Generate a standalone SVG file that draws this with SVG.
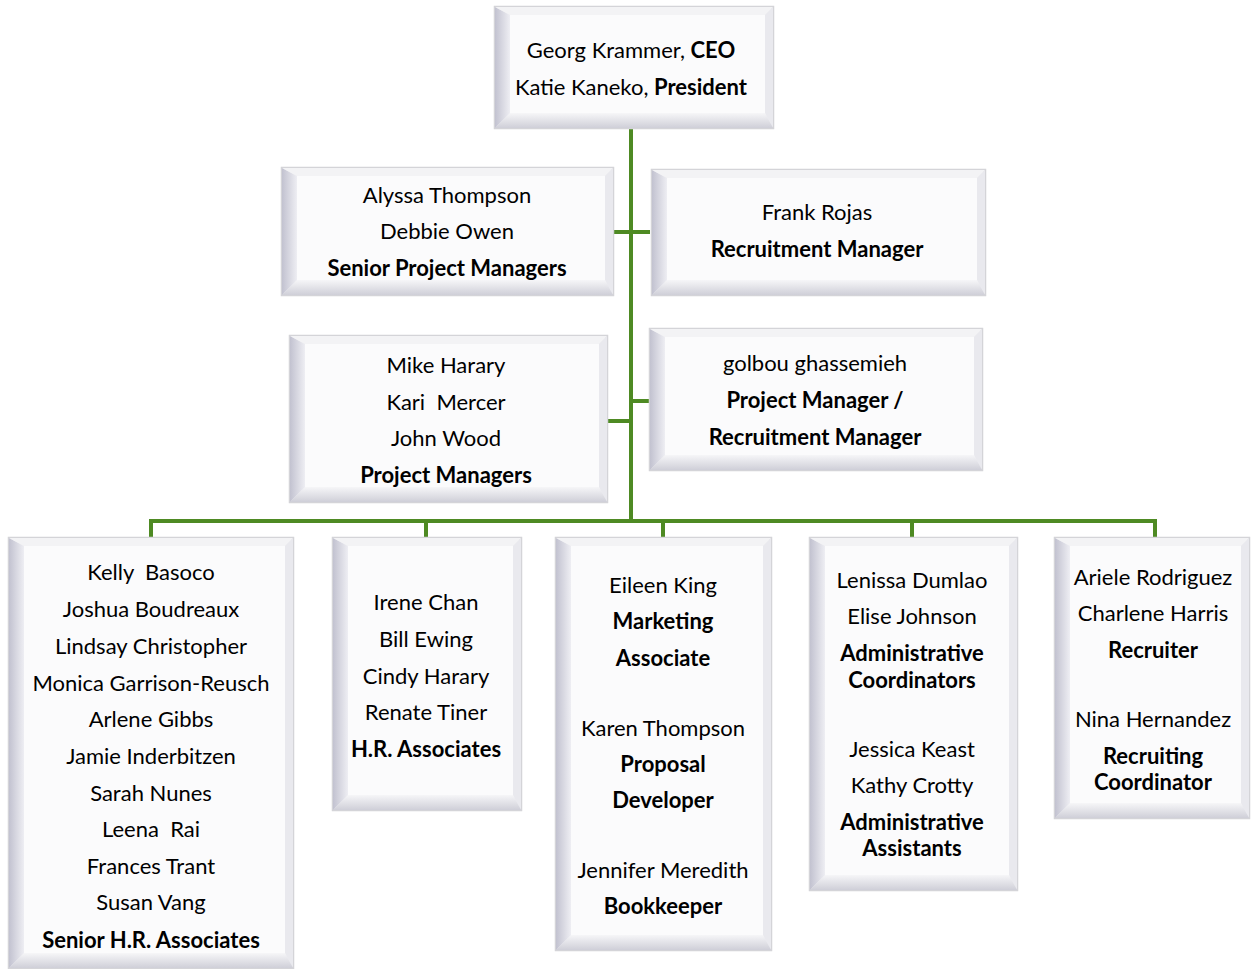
<svg xmlns="http://www.w3.org/2000/svg" width="1251" height="969" viewBox="0 0 1251 969">
<style>
.t{font-family:Lato,"Liberation Sans",sans-serif;font-size:22px;fill:#000;text-anchor:middle;white-space:pre}
.b{font-weight:bold}
.o{fill:#ececf0;stroke:#d4d4d8;stroke-width:2.5}
.lf{fill:url(#gl)}
.tp{fill:#f3f3f5}
.rt{fill:#e9e9ee}
.bt{fill:url(#gb)}
.fc{fill:#fbfbfc}
.c{stroke:#4e8a23;stroke-width:4;fill:none}
</style>
<defs>
<linearGradient id="gl" x1="0" y1="0" x2="1" y2="0"><stop offset="0" stop-color="#c2c2d0"/><stop offset="1" stop-color="#eeeef3"/></linearGradient>
<linearGradient id="gb" x1="0" y1="0" x2="0" y2="1"><stop offset="0" stop-color="#f6f6f8"/><stop offset="1" stop-color="#cfcfd8"/></linearGradient>
</defs>
<rect width="1251" height="969" fill="#fff"/>
<g id="connectors">
<path class="c" d="M631 128V521M613 232H650M607 421H631M631 401H650M151 540V521H1155V540M426 521V540M663 521V540M912 521V540"/>
</g>
<g id="ceo">
<rect class="o" x="495" y="7" width="278" height="121"/>
<polygon class="lf" points="495,7 510,15 510,113 495,128"/>
<polygon class="tp" points="495,7 773,7 765,15 510,15"/>
<polygon class="rt" points="773,7 773,128 765,113 765,15"/>
<polygon class="bt" points="495,128 510,113 765,113 773,128"/>
<rect class="fc" x="510" y="15" width="255" height="98"/>
<text class="t" x="631" y="58">Georg Krammer, <tspan class="b">CEO</tspan></text>
<text class="t" x="631" y="95">Katie Kaneko, <tspan class="b">President</tspan></text>
</g>
<g id="spm">
<rect class="o" x="282" y="168" width="331" height="127"/>
<polygon class="lf" points="282,168 297,176 297,280 282,295"/>
<polygon class="tp" points="282,168 613,168 605,176 297,176"/>
<polygon class="rt" points="613,168 613,295 605,280 605,176"/>
<polygon class="bt" points="282,295 297,280 605,280 613,295"/>
<rect class="fc" x="297" y="176" width="308" height="104"/>
<text class="t" x="447" y="203">Alyssa Thompson</text>
<text class="t" x="447" y="239">Debbie Owen</text>
<text class="t b" x="447" y="276">Senior Project Managers</text>
</g>
<g id="frank">
<rect class="o" x="652" y="170" width="333" height="125"/>
<polygon class="lf" points="652,170 667,178 667,280 652,295"/>
<polygon class="tp" points="652,170 985,170 977,178 667,178"/>
<polygon class="rt" points="985,170 985,295 977,280 977,178"/>
<polygon class="bt" points="652,295 667,280 977,280 985,295"/>
<rect class="fc" x="667" y="178" width="310" height="102"/>
<text class="t" x="817" y="220">Frank Rojas</text>
<text class="t b" x="817" y="257">Recruitment Manager</text>
</g>
<g id="pm">
<rect class="o" x="290" y="336" width="317" height="166"/>
<polygon class="lf" points="290,336 305,344 305,487 290,502"/>
<polygon class="tp" points="290,336 607,336 599,344 305,344"/>
<polygon class="rt" points="607,336 607,502 599,487 599,344"/>
<polygon class="bt" points="290,502 305,487 599,487 607,502"/>
<rect class="fc" x="305" y="344" width="294" height="143"/>
<text class="t" x="446" y="373">Mike Harary</text>
<text class="t" x="446" y="410">Kari  Mercer</text>
<text class="t" x="446" y="446">John Wood</text>
<text class="t b" x="446" y="483">Project Managers</text>
</g>
<g id="golbou">
<rect class="o" x="650" y="329" width="332" height="141"/>
<polygon class="lf" points="650,329 665,337 665,455 650,470"/>
<polygon class="tp" points="650,329 982,329 974,337 665,337"/>
<polygon class="rt" points="982,329 982,470 974,455 974,337"/>
<polygon class="bt" points="650,470 665,455 974,455 982,470"/>
<rect class="fc" x="665" y="337" width="309" height="118"/>
<text class="t" x="815" y="371">golbou ghassemieh</text>
<text class="t b" x="815" y="408">Project Manager /</text>
<text class="t b" x="815" y="445">Recruitment Manager</text>
</g>
<g id="srhr">
<rect class="o" x="9" y="538" width="284" height="430"/>
<polygon class="lf" points="9,538 24,546 24,953 9,968"/>
<polygon class="tp" points="9,538 293,538 285,546 24,546"/>
<polygon class="rt" points="293,538 293,968 285,953 285,546"/>
<polygon class="bt" points="9,968 24,953 285,953 293,968"/>
<rect class="fc" x="24" y="546" width="261" height="407"/>
<text class="t" x="151" y="580">Kelly  Basoco</text>
<text class="t" x="151" y="617">Joshua Boudreaux</text>
<text class="t" x="151" y="654">Lindsay Christopher</text>
<text class="t" x="151" y="691">Monica Garrison-Reusch</text>
<text class="t" x="151" y="727">Arlene Gibbs</text>
<text class="t" x="151" y="764">Jamie Inderbitzen</text>
<text class="t" x="151" y="801">Sarah Nunes</text>
<text class="t" x="151" y="837">Leena  Rai</text>
<text class="t" x="151" y="874">Frances Trant</text>
<text class="t" x="151" y="910">Susan Vang</text>
<text class="t b" x="151" y="948">Senior H.R. Associates</text>
</g>
<g id="hr">
<rect class="o" x="333" y="538" width="188" height="272"/>
<polygon class="lf" points="333,538 348,546 348,795 333,810"/>
<polygon class="tp" points="333,538 521,538 513,546 348,546"/>
<polygon class="rt" points="521,538 521,810 513,795 513,546"/>
<polygon class="bt" points="333,810 348,795 513,795 521,810"/>
<rect class="fc" x="348" y="546" width="165" height="249"/>
<text class="t" x="426" y="610">Irene Chan</text>
<text class="t" x="426" y="647">Bill Ewing</text>
<text class="t" x="426" y="684">Cindy Harary</text>
<text class="t" x="426" y="720">Renate Tiner</text>
<text class="t b" x="426" y="757">H.R. Associates</text>
</g>
<g id="marketing">
<rect class="o" x="556" y="538" width="215" height="412"/>
<polygon class="lf" points="556,538 571,546 571,935 556,950"/>
<polygon class="tp" points="556,538 771,538 763,546 571,546"/>
<polygon class="rt" points="771,538 771,950 763,935 763,546"/>
<polygon class="bt" points="556,950 571,935 763,935 771,950"/>
<rect class="fc" x="571" y="546" width="192" height="389"/>
<text class="t" x="663" y="593">Eileen King</text>
<text class="t b" x="663" y="629">Marketing</text>
<text class="t b" x="663" y="666">Associate</text>
<text class="t" x="663" y="736">Karen Thompson</text>
<text class="t b" x="663" y="772">Proposal</text>
<text class="t b" x="663" y="808">Developer</text>
<text class="t" x="663" y="878">Jennifer Meredith</text>
<text class="t b" x="663" y="914">Bookkeeper</text>
</g>
<g id="admin">
<rect class="o" x="810" y="538" width="207" height="352"/>
<polygon class="lf" points="810,538 825,546 825,875 810,890"/>
<polygon class="tp" points="810,538 1017,538 1009,546 825,546"/>
<polygon class="rt" points="1017,538 1017,890 1009,875 1009,546"/>
<polygon class="bt" points="810,890 825,875 1009,875 1017,890"/>
<rect class="fc" x="825" y="546" width="184" height="329"/>
<text class="t" x="912" y="588">Lenissa Dumlao</text>
<text class="t" x="912" y="624">Elise Johnson</text>
<text class="t b" x="912" y="661">Administrative</text>
<text class="t b" x="912" y="688">Coordinators</text>
<text class="t" x="912" y="757">Jessica Keast</text>
<text class="t" x="912" y="793">Kathy Crotty</text>
<text class="t b" x="912" y="830">Administrative</text>
<text class="t b" x="912" y="856">Assistants</text>
</g>
<g id="recruiter">
<rect class="o" x="1055" y="538" width="194" height="280"/>
<polygon class="lf" points="1055,538 1070,546 1070,803 1055,818"/>
<polygon class="tp" points="1055,538 1249,538 1241,546 1070,546"/>
<polygon class="rt" points="1249,538 1249,818 1241,803 1241,546"/>
<polygon class="bt" points="1055,818 1070,803 1241,803 1249,818"/>
<rect class="fc" x="1070" y="546" width="171" height="257"/>
<text class="t" x="1153" y="585">Ariele Rodriguez</text>
<text class="t" x="1153" y="621">Charlene Harris</text>
<text class="t b" x="1153" y="658">Recruiter</text>
<text class="t" x="1153" y="727">Nina Hernandez</text>
<text class="t b" x="1153" y="764">Recruiting</text>
<text class="t b" x="1153" y="790">Coordinator</text>
</g>
</svg>
